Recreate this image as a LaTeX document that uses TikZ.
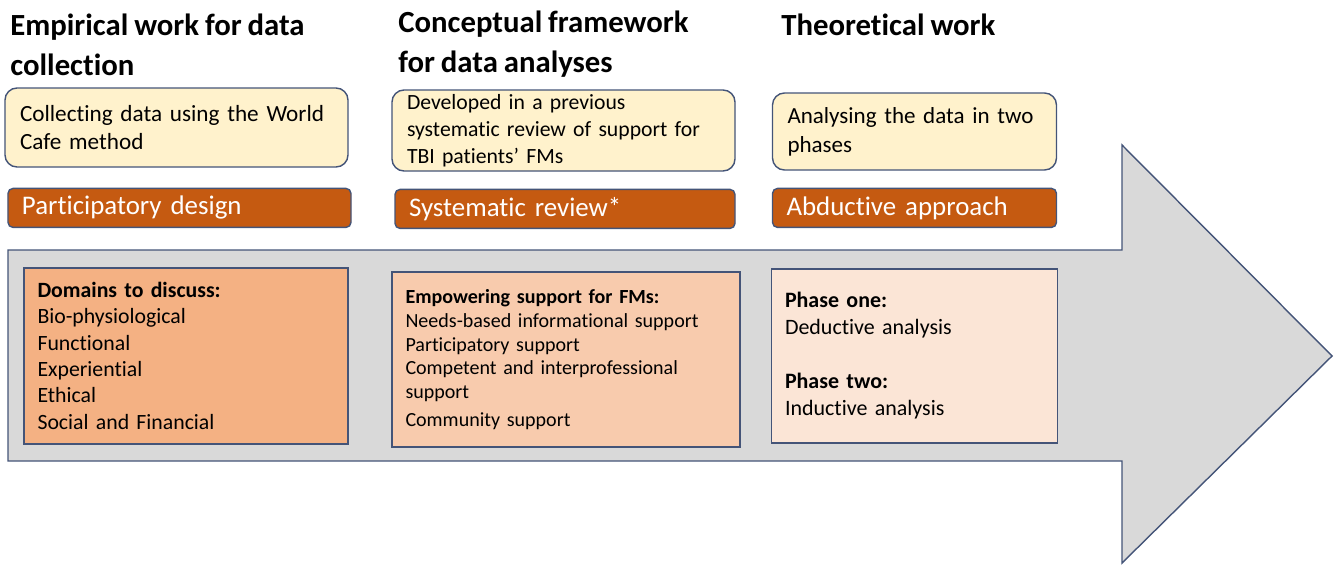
\documentclass[tikz,border=0pt]{standalone}
\usepackage{fontspec}
\setmainfont{Carlito}[Ligatures=NoCommon, WordSpace=0.85]
\usepackage{xcolor}
\usetikzlibrary{positioning}
\definecolor{edgeblue}{RGB}{68, 84, 120}
\definecolor{notefill}{RGB}{255, 242, 204}
\definecolor{methodfill}{RGB}{197, 90, 17}
\definecolor{arrowfill}{RGB}{217, 217, 217}
\definecolor{darkpeach}{RGB}{244, 177, 131}
\definecolor{midpeach}{RGB}{248, 203, 173}
\definecolor{lightpeach}{RGB}{251, 229, 214}

\begin{document}
\begin{tikzpicture}[
    heading/.style={anchor=north west, inner sep=0pt, align=left, font=\fontsize{17.5}{22.7}\selectfont\bfseries},
    note/.style={draw=edgeblue, fill=notefill, rounded corners=0.24cm, inner xsep=0.3cm, inner ysep=0pt, align=left, line width=0.8pt},
    method/.style={draw=edgeblue, fill=methodfill, rounded corners=0.1cm, inner xsep=0.28cm, inner ysep=0pt, minimum height=0.78cm, align=left, text=white, line width=0.8pt, font=\fontsize{15.3}{17}\selectfont},
    content/.style={draw=edgeblue, inner xsep=0.27cm, inner ysep=0pt, align=left, line width=0.8pt},
    flow/.style={draw=edgeblue, fill=arrowfill, line width=0.8pt}
]
    \useasboundingbox (0,0) rectangle (26.68,-11.28);

    % big process arrow behind the boxes
    \draw[flow] (0.16,-5.0) -- (22.44,-5.0) -- (22.44,-2.9) -- (26.64,-7.12)
        -- (22.44,-11.26) -- (22.44,-9.22) -- (0.16,-9.22) -- cycle;

    % Column titles
    \node[heading] (empirical) at (0.2,-0.28) {Empirical work for data\\collection};
    \node[heading] (conceptual) at (7.96,-0.22) {Conceptual framework\\for data analyses};
    \node[heading] (theoretical) at (15.62,-0.28) {Theoretical work};

    % Nodes - top row
    \node[note, text width=6.26cm, minimum height=1.58cm, font=\fontsize{13.2}{16.4}\selectfont] (collect) at (3.53,-2.55) {Collecting data using the World\\Cafe method};
    \node[note, text width=6.26cm, minimum height=1.62cm, font=\fontsize{12.35}{15.3}\selectfont] (developed) at (11.27,-2.61) {Developed in a previous\\systematic review of support for\\TBI patients’ FMs};
    \node[note, text width=5.08cm, minimum height=1.54cm, font=\fontsize{13.1}{16.4}\selectfont] (analysing) at (18.29,-2.63) {Analysing the data in two\\phases};

    % Nodes - method bars
    \node[method, text width=6.3cm, below=0.4cm of collect, xshift=0.06cm] (participatory) {Participatory design};
    \node[method, text width=6.24cm, below=0.34cm of developed, xshift=0.03cm] (review) {Systematic review*};
    \node[method, text width=5.12cm, below=0.34cm of analysing] (abductive) {Abductive approach};

    % Nodes - inside the arrow
    \node[content, fill=darkpeach, text width=5.94cm, minimum height=3.52cm, below=0.78cm of participatory, xshift=0.13cm, font=\fontsize{12.4}{15}\selectfont] (domains)
        {\textbf{Domains to discuss:}\\Bio-physiological\\Functional\\Experiential\\Ethical\\Social and Financial};
    \node[content, fill=midpeach, text width=6.42cm, minimum height=3.5cm, below=0.84cm of review, xshift=0.02cm, font=\fontsize{11.4}{13.6}\selectfont] (empowering)
        {\textbf{Empowering support for FMs:}\\Needs-based informational support\\Participatory support\\Competent and interprofessional\\support\\[2pt]Community support};
    \node[content, fill=lightpeach, text width=5.18cm, minimum height=3.48cm, below=0.8cm of abductive, font=\fontsize{12.5}{15.3}\selectfont] (phases)
        {\textbf{Phase one:}\\Deductive analysis\\[15.3pt]\textbf{Phase two:}\\Inductive analysis};
\end{tikzpicture}
\end{document}
